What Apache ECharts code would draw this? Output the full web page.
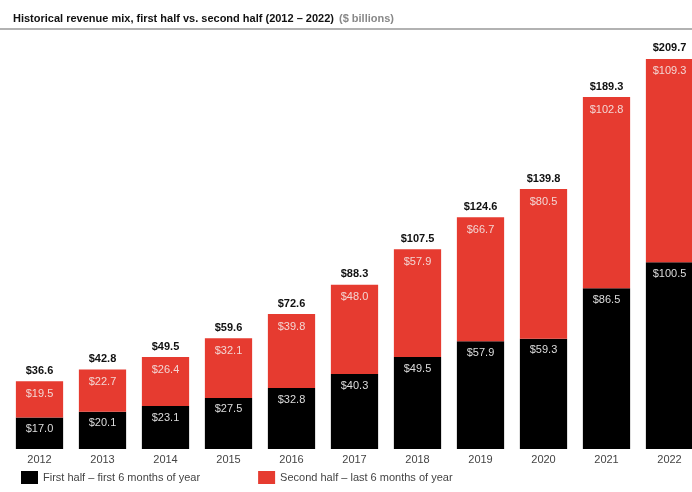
<!DOCTYPE html>
<html><head><meta charset="utf-8">
<script src="https://cdn.jsdelivr.net/npm/echarts@6/dist/echarts.min.js"></script>
<style>html,body{margin:0;padding:0;background:#fff}#c{width:692px;height:492px}</style>
</head><body><div id="c"></div>
<script>
const years = ['2012','2013','2014','2015','2016','2017','2018','2019','2020','2021','2022'];
const firstHalf = [17.0,20.1,23.1,27.5,32.8,40.3,49.5,57.9,59.3,86.5,100.5];
const secondHalf = [19.5,22.7,26.4,32.1,39.8,48.0,57.9,66.7,80.5,102.8,109.3];
const totals = [36.6,42.8,49.5,59.6,72.6,88.3,107.5,124.6,139.8,189.3,209.7];
const fmt = v => '$' + v.toFixed(1);

const chart = echarts.init(document.getElementById('c'));
chart.setOption({
  animation:false,
  title:{
    left:8, top:5,
    text:'{b|Historical revenue mix, first half vs. second half (2012 – 2022)} {n|($ billions)}',
    textStyle:{rich:{
      b:{fontFamily:'Liberation Sans',fontSize:11,fontWeight:'bold',color:'#111'},
      n:{fontFamily:'Liberation Sans',fontSize:11,color:'#888'}
    }}
  },
  graphic:[{type:'line',shape:{x1:0,y1:29,x2:692,y2:29},style:{stroke:'#999',lineWidth:1.5}}],
  legend:{
    bottom:3, left:16, itemWidth:17, itemHeight:13, itemGap:58,
    icon:'rect',
    textStyle:{fontFamily:'Liberation Sans',fontSize:11,color:'#444'},
    data:['First half – first 6 months of year','Second half – last 6 months of year']
  },
  grid:{left:8, width:693, top:40, bottom:43, outerBoundsMode:'none', containLabel:false},
  xAxis:{type:'category',data:years,axisLine:{show:false},axisTick:{show:false},
    axisLabel:{fontFamily:'Liberation Sans',fontSize:11,color:'#444',margin:5}},
  yAxis:{type:'value',min:0,max:220,show:false,splitLine:{show:false}},
  series:[
    {name:'First half – first 6 months of year',type:'bar',stack:'a',data:firstHalf,
     barCategoryGap:'25%',itemStyle:{color:'#000'},
     label:{show:true,position:'insideTop',distance:6,color:'#ddd',fontFamily:'Liberation Sans',fontSize:11,
       formatter:p=>fmt(p.value)}},
    {name:'Second half – last 6 months of year',type:'bar',stack:'a',data:secondHalf,
     itemStyle:{color:'#e63b30'},
     label:{show:true,position:'insideTop',distance:7,color:'#f3d6d3',fontFamily:'Liberation Sans',fontSize:11,
       formatter:p=>fmt(p.value)}},
    {name:'total',type:'bar',stack:'a',data:years.map(()=>0),itemStyle:{color:'transparent'},
     label:{show:true,position:'top',distance:5,color:'#111',fontWeight:'bold',fontFamily:'Liberation Sans',fontSize:11,
       formatter:p=>fmt(totals[p.dataIndex])}}
  ]
});
</script></body></html>
